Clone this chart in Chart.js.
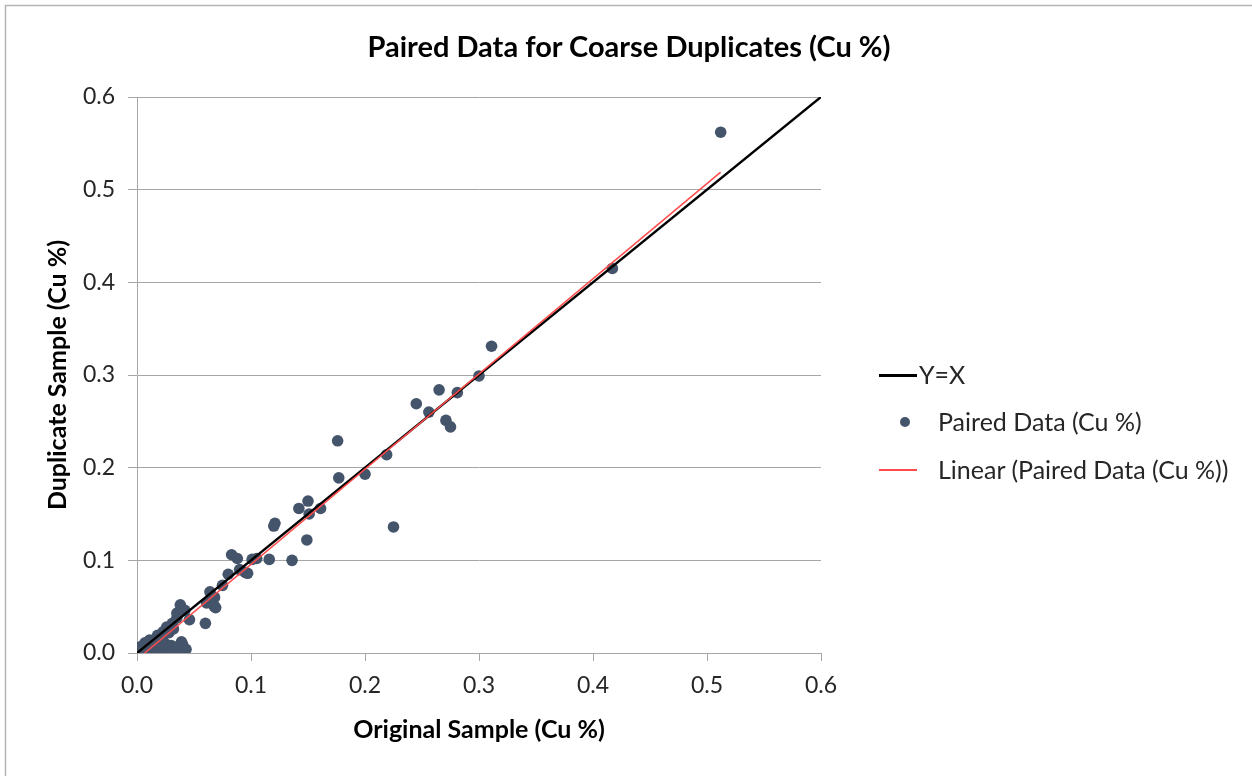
<!DOCTYPE html>
<html>
<head>
<meta charset="utf-8">
<script src="https://cdn.jsdelivr.net/npm/chart.js@4.4.1/dist/chart.umd.min.js"></script>
<style>
  html, body { margin: 0; padding: 0; background: #fff; overflow: hidden; }
  #wrap { position: relative; width: 1252px; height: 776px; }
  #c { position: absolute; left: 0; top: 0; }
  .lg { position: absolute; font-family: Lato, "Open Sans", sans-serif; font-size: 25px; color: #262626; white-space: nowrap; line-height: 28px; }
  .ttl { position: absolute; left: 0; width: 1258px; top: 29px; text-align: center; font-family: Lato, "Open Sans", sans-serif; font-size: 29px; font-weight: bold; color: #000; line-height: 34px; white-space: nowrap; }
  .sw { position: absolute; }
</style>
</head>
<body>
<div id="wrap">
  <canvas id="c" width="1252" height="776"></canvas>
  <div class="ttl" id="ttl"></div>
  <div class="sw" style="left:879px; top:374px; width:38px; height:2.5px; background:#000;"></div>
  <div class="lg" id="lg0" style="left:919px; top:360px;"></div>
  <div class="sw" style="left:900px; top:417px; width:10px; height:10px; border-radius:50%; background:#44546a;"></div>
  <div class="lg" id="lg1" style="left:938px; top:407px;"></div>
  <div class="sw" style="left:879px; top:469px; width:38px; height:1.5px; background:#ff4b4b;"></div>
  <div class="lg" id="lg2" style="left:938px; top:455px;"></div>
</div>
<script>
const chartTitle = "Paired Data for Coarse Duplicates (Cu %)";
const xAxisTitle = "Original Sample (Cu %)";
const yAxisTitle = "Duplicate Sample (Cu %)";
const seriesNames = ["Y=X", "Paired Data (Cu %)", "Linear (Paired Data (Cu %))"];

// Y=X reference line
const refX = [0, 0.6];
const refY = [0, 0.6];

// Paired data (original, duplicate)
const origCu = [
  0.512, 0.417, 0.311, 0.300, 0.281, 0.265, 0.245, 0.256, 0.271, 0.275,
  0.219, 0.225, 0.200, 0.176, 0.177, 0.161, 0.150, 0.142, 0.151, 0.121,
  0.120, 0.149, 0.136, 0.116, 0.105, 0.101, 0.088, 0.083, 0.090, 0.095,
  0.097, 0.080, 0.075, 0.064, 0.068, 0.064, 0.067, 0.069, 0.061, 0.068,
  0.060, 0.046, 0.038, 0.042, 0.035, 0.035, 0.031, 0.026, 0.023, 0.018,
  0.011, 0.007, 0.001, 0.039, 0.040, 0.003, 0.005, 0.008, 0.013, 0.016,
  0.020, 0.012, 0.016,
  0.001, 0.004, 0.007, 0.010, 0.013, 0.016, 0.019, 0.022, 0.025, 0.028,
  0.031, 0.034, 0.037, 0.040, 0.043,
  0.015, 0.020, 0.025, 0.030, 0.010, 0.022, 0.028, 0.032, 0.036, 0.041
];
const dupCu = [
  0.562, 0.415, 0.331, 0.299, 0.281, 0.284, 0.269, 0.260, 0.251, 0.244,
  0.214, 0.136, 0.193, 0.229, 0.189, 0.156, 0.164, 0.156, 0.150, 0.140,
  0.137, 0.122, 0.100, 0.101, 0.102, 0.101, 0.102, 0.106, 0.090, 0.087,
  0.086, 0.085, 0.073, 0.066, 0.060, 0.055, 0.052, 0.049, 0.054, 0.050,
  0.032, 0.036, 0.052, 0.046, 0.043, 0.038, 0.032, 0.028, 0.023, 0.019,
  0.014, 0.011, 0.006, 0.012, 0.009, 0.005, 0.008, 0.010, 0.013, 0.015,
  0.017, 0.008, 0.010,
  0.004, 0.004, 0.004, 0.004, 0.004, 0.004, 0.004, 0.004, 0.004, 0.004,
  0.004, 0.004, 0.004, 0.004, 0.004,
  0.010, 0.012, 0.010, 0.008, 0.007, 0.016, 0.022, 0.026, 0.007, 0.005
];

// Linear trendline end points
const trendX = [0.001, 0.512];
const trendY = [-0.006, 0.519];

const xTicks = [0, 0.1, 0.2, 0.3, 0.4, 0.5, 0.6];
const yTicks = [0, 0.1, 0.2, 0.3, 0.4, 0.5, 0.6];

document.getElementById('ttl').textContent = chartTitle;
seriesNames.forEach((n, i) => { document.getElementById('lg' + i).textContent = n; });

const toXY = (xs, ys) => xs.map((x, i) => ({ x: x, y: ys[i] }));

const FONT = "Lato, 'Open Sans', sans-serif";

const borderPlugin = {
  id: 'outerBorder',
  beforeDraw(chart) {
    const ctx = chart.ctx;
    ctx.save();
    ctx.fillStyle = '#fff';
    ctx.fillRect(0, 0, chart.width, chart.height);
    ctx.strokeStyle = '#b4b4b4';
    ctx.lineWidth = 1.5;
    ctx.beginPath();
    ctx.moveTo(5.5, chart.height);
    ctx.lineTo(5.5, 5.5);
    ctx.lineTo(chart.width, 5.5);
    ctx.stroke();
    ctx.restore();
  }
};

new Chart(document.getElementById('c'), {
  type: 'scatter',
  data: {
    datasets: [
      {
        label: seriesNames[0],
        type: 'line',
        data: toXY(refX, refY),
        borderColor: '#000000',
        borderWidth: 2.5,
        pointRadius: 0,
        fill: false,
        order: 2
      },
      {
        label: seriesNames[1],
        data: toXY(origCu, dupCu),
        backgroundColor: '#44546a',
        borderColor: '#44546a',
        pointRadius: 5.8,
        pointHoverRadius: 5.8,
        borderWidth: 0,
        order: 3
      },
      {
        label: seriesNames[2],
        type: 'line',
        data: toXY(trendX, trendY),
        borderColor: '#ff4b4b',
        borderWidth: 1.5,
        pointRadius: 0,
        fill: false,
        order: 1
      }
    ]
  },
  options: {
    responsive: false,
    animation: false,
    events: [],
    layout: { padding: { left: 0, right: 431, top: 97, bottom: 0 } },
    plugins: {
      legend: { display: false },
      tooltip: { enabled: false },
      title: { display: false }
    },
    scales: {
      x: {
        type: 'linear',
        min: 0, max: 0.6,
        afterBuildTicks: (s) => { s.ticks = xTicks.map(v => ({ value: v })); },
        afterFit: (s) => { s.height = 123; },
        ticks: {
          color: '#262626',
          font: { family: FONT, size: 23 },
          padding: 11,
          callback: (v) => Number(v).toFixed(1)
        },
        grid: { drawOnChartArea: false, drawTicks: true, tickLength: 8, color: '#a6a6a6', lineWidth: 1 },
        border: { display: true, color: '#a6a6a6', width: 1 },
        title: {
          display: true,
          text: xAxisTitle,
          color: '#000',
          font: { family: FONT, size: 25, weight: 'bold', lineHeight: 1.2 },
          padding: { top: 0, bottom: 31 }
        }
      },
      y: {
        type: 'linear',
        min: 0, max: 0.6,
        afterBuildTicks: (s) => { s.ticks = yTicks.map(v => ({ value: v })); },
        afterFit: (s) => { s.width = 137; },
        ticks: {
          color: '#262626',
          font: { family: FONT, size: 23 },
          padding: 13,
          callback: (v) => Number(v).toFixed(1)
        },
        grid: { drawOnChartArea: true, drawTicks: true, tickLength: 9, color: '#a6a6a6', lineWidth: 1 },
        border: { display: true, color: '#a6a6a6', width: 1 },
        title: {
          display: true,
          text: yAxisTitle,
          color: '#000',
          font: { family: FONT, size: 25, weight: 'bold', lineHeight: 1.2 },
          padding: { top: 43, bottom: 0 }
        }
      }
    }
  },
  plugins: [borderPlugin]
});
</script>
</body>
</html>
